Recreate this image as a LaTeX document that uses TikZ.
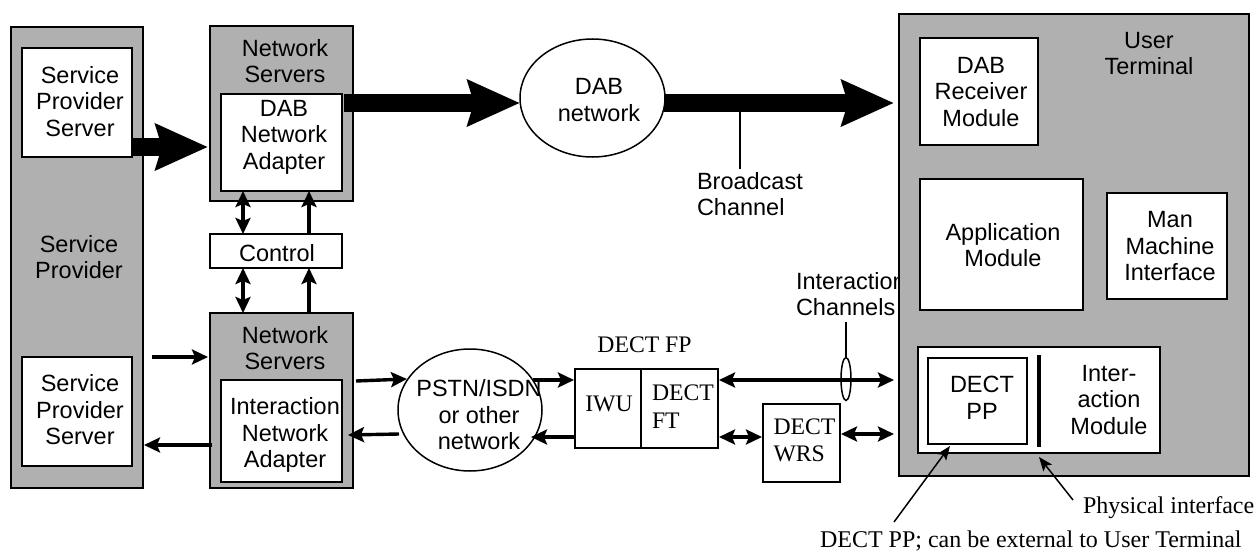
\documentclass[tikz,border=0pt]{standalone}
\usepackage{fontspec}
\setmainfont{Liberation Sans}
\newfontfamily\tnr{Liberation Serif}
\usetikzlibrary{arrows.meta,calc,shapes.geometric}
\tikzset{
  x=1pt,y=-1pt,
  every node/.style={inner sep=0pt,outer sep=0pt},
  lab/.style={font=\fontsize{23.5}{26.5}\selectfont,align=center,text=black},
  labl/.style={font=\fontsize{23.5}{26.5}\selectfont,align=left,text=black},
  ser/.style={font=\tnr\fontsize{23.7}{27.5}\selectfont,align=left,text=black},
  sers/.style={font=\tnr\fontsize{24}{28}\selectfont,text=black},
  greybox/.style={draw=black,line width=1.5pt,fill=panel},
  whitebox/.style={draw=black,line width=1.5pt,fill=white},
  oval/.style={ellipse,draw=black,line width=1.5pt,fill=white},
  fat/.style={line width=18pt,-{Stealth[length=52pt,width=45pt,inset=6pt]}},
  med/.style={line width=3.4pt,-{Stealth[length=16pt,width=15pt,inset=3pt]}},
  meds/.style={line width=3.4pt,{Stealth[length=16pt,width=15pt,inset=3pt]}-{Stealth[length=16pt,width=15pt,inset=3pt]}},
  thin1/.style={line width=1.5pt},
  thina/.style={line width=1.5pt,-{Stealth[length=14pt,width=11pt,inset=3pt]}}
}
\definecolor{panel}{gray}{0.69}
% name, x0, y0, x1, y1, style
\newcommand{\bxr}[6]{\node[#6,minimum width={(#4)-(#2)},minimum height={(#5)-(#3)}] (#1) at ({((#2)+(#4))/2},{((#3)+(#5))/2}) {};}
\begin{document}
\begin{tikzpicture}
\useasboundingbox (0,0) rectangle (1256,551);
\fill[white] (0,0) rectangle (1256,551);
% left panel
\bxr{sp}{11}{27}{143}{488}{greybox}
\bxr{spsa}{22}{48}{132}{157}{whitebox}
\bxr{spsb}{22}{357}{132}{466}{whitebox}
\node[lab] (tspsa) at (80,101.5) {Service\\Provider\\Server};
\node[lab] (tspsb) at (80,410) {Service\\Provider\\Server};
\node[lab] (tsp) at (79,257) {Service\\Provider};
% network servers
\bxr{nsa}{210}{26}{353}{201}{greybox}
\bxr{daba}{221}{94}{342}{191}{whitebox}
\node[lab] (tnsa) at (285,61) {Network\\Servers};
\node[lab] (tdaba) at (284,137) {DAB\\Network\\Adapter};
\bxr{ctl}{210}{234}{342}{268}{whitebox}
\node[lab] (tctl) at (277,253) {Control};
\bxr{nsb}{210}{313}{353}{488}{greybox}
\bxr{inta}{221}{380}{342}{482}{whitebox}
\node[lab] (tnsb) at (285,348) {Network\\Servers};
\node[lab] (tinta) at (285,435) {Interaction\\Network\\Adapter};
% ovals
\node[oval,minimum width=145pt,minimum height=118pt] (dabn) at (592.5,98) {};
\node[lab] (tdabn) at (599,100) {DAB\\network};
\node[oval,minimum width=144pt,minimum height=122pt] (pstn) at (470,410) {};
\node[lab] (tpstn) at (479,415) {PSTN/ISDN\\or other\\network};
% DECT FP
\bxr{fp}{575}{369}{718}{448}{whitebox}
\coordinate (fpdiv) at (641,369);
\draw[thin1,line width=2pt] (fpdiv) -- (fpdiv |- fp.south);
\node[ser,anchor=center] (tfp) at (644.5,345) {DECT FP};
\node[ser] (tiwu) at (609,404) {IWU};
\node[ser,anchor=west] (tft) at (652,406.5) {DECT\\FT};
\bxr{wrs}{763}{404}{840}{482}{whitebox}
\node[ser,anchor=west] (twrs) at (773.5,440.5) {DECT\\WRS};
% labels behind terminal
\node[labl,anchor=west] (tbc) at (697,194) {Broadcast\\Channel};
\node[labl,anchor=west] (tic) at (796,294) {Interaction\\Channels};
% user terminal
\bxr{ut}{899}{14}{1249}{476}{greybox}
\bxr{dabr}{920}{38}{1038}{145}{whitebox}
\bxr{app}{920}{179}{1083}{310}{whitebox}
\bxr{mmi}{1107}{193}{1227}{299}{whitebox}
\bxr{imod}{918}{347}{1160}{453}{whitebox}
\bxr{pp}{928}{358}{1027}{444}{whitebox}
\node[lab] (tut) at (1149,53.5) {User\hspace{12pt}\\Terminal};
\node[lab] (tdabr) at (981,92) {DAB\\Receiver\\Module};
\node[lab] (tapp) at (1003,245) {Application\\Module};
\node[lab] (tmmi) at (1170,246.5) {Man\\Machine\\Interface};
\node[lab] (tpp) at (982,398) {DECT\\PP};
\node[lab] (timod) at (1109,400) {Inter-\\action\\Module};
\coordinate (phyt) at (1039,355);
\coordinate (phyb) at (1039,447);
\draw[line width=4pt] (phyt) -- (phyb);
% fat arrows
\draw[fat] ($(spsa.east)+(1,44.5)$) -- ($(nsa.west)+(-2,33.5)$);
\draw[fat] ($(daba.east)+(2,-39.5)$) -- (dabn.west |- 0,103);
\draw[fat] ($(dabn.east)+(-1,5)$) -- ($(ut.west)+(-5,-142)$);
% medium arrows control
\draw[meds] ($(daba.south)+(-38.5,0)$) -- ($(ctl.north)+(-33,0)$);
\draw[med] ($(ctl.north)+(33,0)$) -- ($(daba.south)+(27.5,0)$);
\draw[meds] ($(ctl.south)+(-33,0)$) -- ($(nsb.north)+(-38.5,0)$);
\draw[med] ($(nsb.north)+(27.5,0)$) -- ($(ctl.south)+(33,0)$);
% service provider <-> network servers
\coordinate (spa) at (152,357);
\draw[med] (spa) -- ($(nsb.west)+(-2,-43.5)$);
\draw[med] ($(nsb.west)+(2,44.5)$) -- ($(sp.east)+(1,187.5)$);
% network servers <-> PSTN
\coordinate (nsout) at (356,381);
\draw[med] (nsout) -- ($(pstn.west)+(9,-31)$);
\draw[med] ($(pstn.west)+(1,24)$) -- ($(inta.east)+(6,4)$);
\draw[med] ($(pstn.east)+(-9,-30)$) -- ($(fp.west)+(-1,-28.5)$);
\draw[med] ($(fp.west)+(1,28.5)$) -- ($(pstn.east)+(-11,27)$);
% DECT
\draw[meds] ($(fp.east)+(1,-28.5)$) -- ($(ut.west)+(-5,135)$);
\draw[meds] ($(fp.east)+(1,28.5)$) -- ($(wrs.west)+(-1,-6)$);
\draw[meds] ($(wrs.east)+(1,-9)$) -- ($(ut.west)+(-5,189)$);
% channel oval
\node[ellipse,draw=black,line width=1.5pt,minimum width=10pt,minimum height=43pt] (chan) at (846,379) {};
\coordinate (chant) at (846,322);
\draw[thin1] (chant) -- (chan.north);
% broadcast line
\coordinate (bct) at (740,112);
\draw[thin1] (bct) -- (740,169);
% bottom labels
\node[sers,anchor=west] (tphy) at (1083,508) {Physical interface};
\node[sers,anchor=west] (tdpp) at (820,541) {DECT PP; can be external to User Terminal};
\coordinate (dppa) at (894,522);
\draw[thina] (dppa) -- ($(pp.south)+(-27.5,2)$);
\coordinate (phya) at (1073,500);
\draw[thina] (phya) -- ($(imod.south)+(0,4)$);
\end{tikzpicture}
\end{document}
